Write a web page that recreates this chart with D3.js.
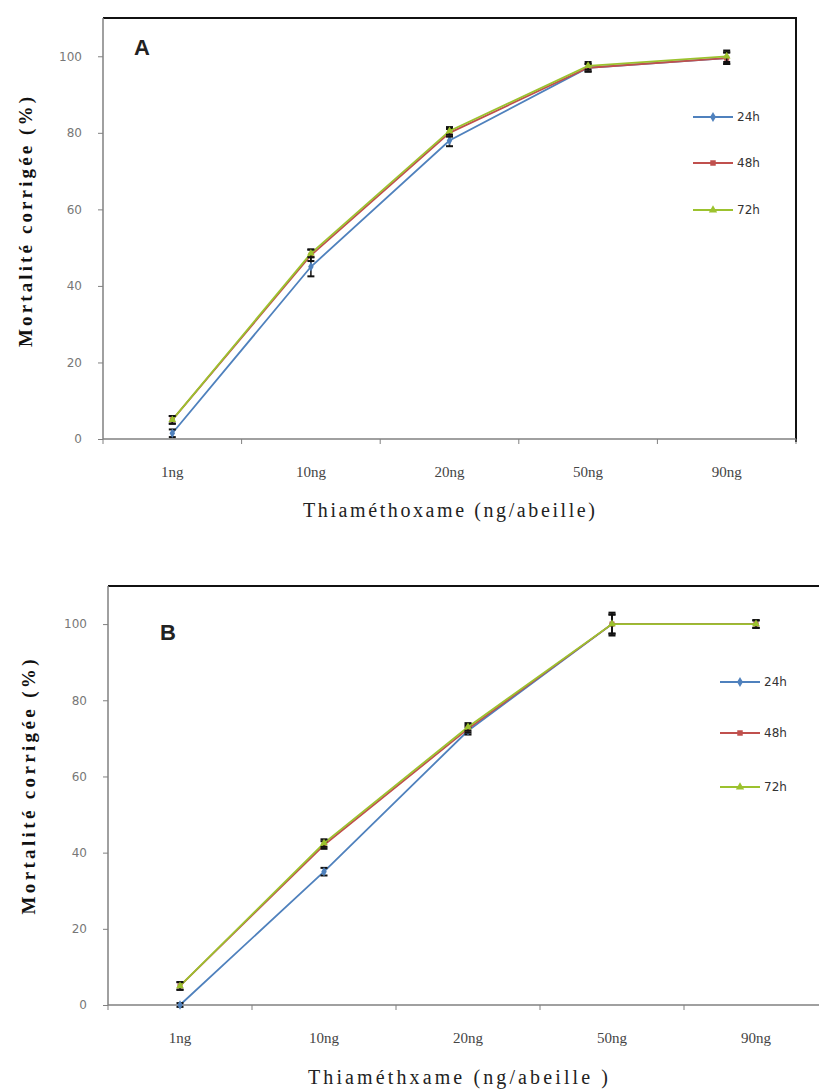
<!DOCTYPE html>
<html>
<head>
<meta charset="utf-8">
<script src="https://cdn.jsdelivr.net/npm/d3@7/dist/d3.min.js"></script>
<style>
  body { margin: 0; background: #fff; }
  svg { display: block; }
</style>
</head>
<body>
<div id="graph-container"></div>
<script>
// categories (doses)
var doses = ["1ng", "10ng", "20ng", "50ng", "90ng"];
var seriesNames = ["24h", "48h", "72h"];
var yTicks = [0, 20, 40, 60, 80, 100];

// panel A - mortalité corrigée (%)
var a24 = [1.5, 45, 78, 97, 99.5];
var a48 = [5, 48, 80, 97, 99.5];
var a72 = [5, 48.5, 80.5, 97.5, 100];
var a24err = [1, 2.5, 1.5, 1, 1.5];
var a48err = [1, 1.5, 1, 1, 1.5];
var a72err = [1, 1, 1, 1, 1.5];

// panel B
var b24 = [0, 35, 72, 100, 100];
var b48 = [5, 42, 72.5, 100, 100];
var b72 = [5, 42.5, 73, 100, 100];
var b24err = [0.5, 1, 1, 3, 1];
var b48err = [1, 1, 1, 2.5, 1];
var b72err = [1, 1, 1, 2.5, 1];

var colors = {"24h": "#4f81bd", "48h": "#c0504d", "72h": "#9cc22e"};

var width = 819, height = 1090;
var svg = d3.select("#graph-container").append("svg")
    .attr("width", width).attr("height", height);

function symbolFor(n) {
    return n === "24h" ? d3.symbolDiamond : (n === "48h" ? d3.symbolSquare : d3.symbolTriangle);
}

function drawPanel(p) {
    var x = d3.scaleBand().domain(doses).range([p.left, p.right]);
    var y = d3.scaleLinear().domain([0, 110]).range([p.bottom, p.top]);
    var g = svg.append("g");

    // top + right frame
    g.append("line").attr("x1", p.left).attr("x2", p.right + 1)
        .attr("y1", p.top).attr("y2", p.top)
        .attr("stroke", "#111").attr("stroke-width", 2);
    g.append("line").attr("x1", p.right).attr("x2", p.right)
        .attr("y1", p.top).attr("y2", p.bottom + 3)
        .attr("stroke", "#111").attr("stroke-width", 2);

    // y axis
    var yAxis = g.append("g").attr("transform", "translate(" + p.left + ",0)")
        .call(d3.axisLeft(y).tickValues(yTicks).tickSize(5).tickPadding(16));
    yAxis.select(".domain").attr("stroke", "#808080").attr("stroke-width", 1.5)
        .attr("d", "M0," + p.top + "V" + p.bottom);
    yAxis.selectAll(".tick line").attr("stroke", "#808080");
    yAxis.selectAll(".tick text").attr("fill", "#777")
        .style("font-family", "DejaVu Sans").style("font-size", "12px");

    // x axis, ticks between categories
    var xAxis = g.append("g").attr("transform", "translate(0," + p.bottom + ")");
    xAxis.append("line").attr("x1", p.left).attr("x2", p.right)
        .attr("stroke", "#808080").attr("stroke-width", 1.5);
    var edges = doses.map(d => x(d)).concat([x.range()[1]]);
    xAxis.selectAll(".xt").data(edges).join("line")
        .attr("x1", d => d).attr("x2", d => d).attr("y1", 0).attr("y2", 5)
        .attr("stroke", "#808080");
    xAxis.selectAll(".xl").data(doses).join("text")
        .attr("x", d => x(d) + x.bandwidth() / 2).attr("y", 38)
        .attr("text-anchor", "middle").attr("fill", "#444")
        .style("font-family", "Liberation Serif").style("font-size", "15px")
        .text(d => d);

    // axis titles
    g.append("text").attr("x", p.xTitleX).attr("y", p.xTitleY)
        .attr("text-anchor", "middle").attr("fill", "#222")
        .attr("textLength", p.xTitleLen).attr("lengthAdjust", "spacing")
        .style("font-family", "Liberation Serif").style("font-size", "20px")
        .text(p.xTitle);
    g.append("text")
        .attr("transform", "translate(" + p.yTitleX + "," + p.yTitleY + ") rotate(-90)")
        .attr("text-anchor", "middle").attr("fill", "#111")
        .attr("textLength", p.yTitleLen).attr("lengthAdjust", "spacing")
        .style("font-family", "Liberation Serif").style("font-size", "19px")
        .style("font-weight", "bold")
        .text("Mortalité corrigée (%)");

    // panel letter
    g.append("text").attr("x", p.letterX).attr("y", p.letterY)
        .attr("fill", "#222").style("font-family", "Liberation Sans")
        .style("font-size", "22px").style("font-weight", "bold")
        .text(p.letter);

    var cx = d => x(d) + x.bandwidth() / 2;
    var line = d3.line().x((d, i) => cx(doses[i])).y(d => y(d));

    p.series.forEach(function (s) {
        var c = colors[s.name];
        g.append("path").datum(s.values).attr("d", line)
            .attr("fill", "none").attr("stroke", c).attr("stroke-width", 1.8);
        // error bars
        var eb = g.append("g");
        s.values.forEach(function (v, i) {
            var xx = cx(doses[i]), e = s.err[i];
            eb.append("line").attr("x1", xx).attr("x2", xx)
                .attr("y1", y(v - e)).attr("y2", y(v + e))
                .attr("stroke", "#111").attr("stroke-width", 1.5);
            [v - e, v + e].forEach(function (w) {
                eb.append("line").attr("x1", xx - 3.5).attr("x2", xx + 3.5)
                    .attr("y1", y(w)).attr("y2", y(w))
                    .attr("stroke", "#111").attr("stroke-width", 2);
            });
        });
        // markers
        g.selectAll(null).data(s.values).join("path")
            .attr("transform", (d, i) => "translate(" + cx(doses[i]) + "," + y(d) + ")")
            .attr("d", d3.symbol().type(symbolFor(s.name)).size(26))
            .attr("fill", c);
    });

    // legend
    seriesNames.forEach(function (n, i) {
        var ly = p.legendY[i];
        var c = colors[n];
        g.append("line").attr("x1", p.legendX).attr("x2", p.legendX + 40)
            .attr("y1", ly).attr("y2", ly).attr("stroke", c).attr("stroke-width", 1.8);
        g.append("path").attr("transform", "translate(" + (p.legendX + 20) + "," + ly + ")")
            .attr("d", d3.symbol().type(symbolFor(n)).size(30)).attr("fill", c);
        g.append("text").attr("x", p.legendX + 44).attr("y", ly + 4)
            .attr("fill", "#333").style("font-family", "DejaVu Sans")
            .style("font-size", "12px").text(n);
    });
}

drawPanel({
    left: 103, right: 796, top: 18, bottom: 439,
    letter: "A", letterX: 134, letterY: 55,
    xTitle: "Thiaméthoxame (ng/abeille)", xTitleX: 449, xTitleY: 517, xTitleLen: 292,
    yTitleX: 32, yTitleY: 222, yTitleLen: 250,
    legendX: 693, legendY: [117, 163, 210],
    series: [
        {name: "24h", values: a24, err: a24err},
        {name: "48h", values: a48, err: a48err},
        {name: "72h", values: a72, err: a72err}
    ]
});

drawPanel({
    left: 108, right: 828, top: 586, bottom: 1005,
    letter: "B", letterX: 160, letterY: 640,
    xTitle: "Thiaméthxame (ng/abeille )", xTitleX: 458, xTitleY: 1084, xTitleLen: 300,
    yTitleX: 35, yTitleY: 787, yTitleLen: 255,
    legendX: 720, legendY: [682, 733, 787],
    series: [
        {name: "24h", values: b24, err: b24err},
        {name: "48h", values: b48, err: b48err},
        {name: "72h", values: b72, err: b72err}
    ]
});
</script>
</body>
</html>
